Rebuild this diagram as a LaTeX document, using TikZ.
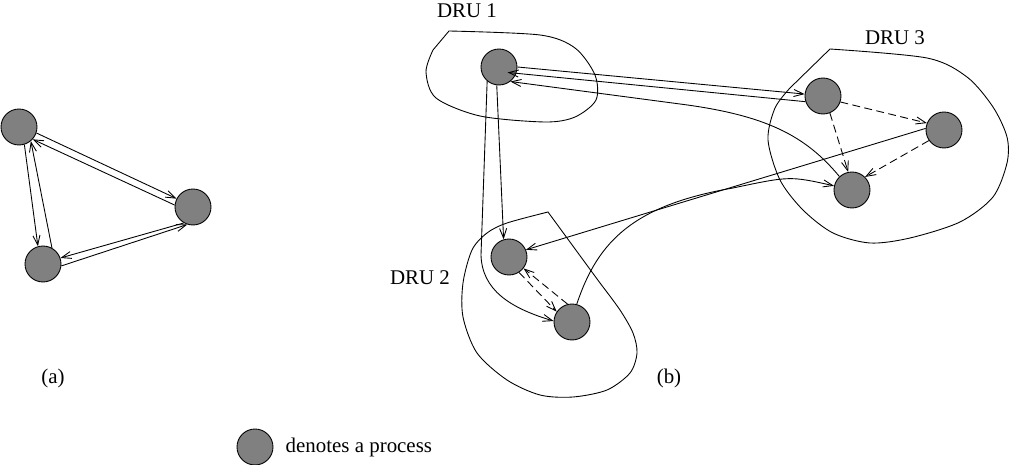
\documentclass[tikz,border=0pt]{standalone}
\usepackage{fontspec}
\setmainfont{Liberation Serif}
\usetikzlibrary{arrows.meta,positioning}
\definecolor{procgray}{RGB}{128,128,128}

\begin{document}
\begin{tikzpicture}[x=0.02cm, y=-0.02cm, line width=0.5pt,
    >={Straight Barb[length=5.5pt,width=4pt]},
    proc/.style={circle, draw, fill=procgray, minimum size=0.72cm, inner sep=0pt},
    lbl/.style={font=\fontsize{11.9}{14}\selectfont},
    local/.style={->, dash pattern=on 4.5pt off 2.5pt}]
    \useasboundingbox (0,0) rectangle (1009,465);

    % DRU outlines
    \draw plot[smooth] coordinates {(449,31) (540,35) (575,48) (595,75) (596,100) (575,117) (545,122) (480,116) (436,98) (426,72) (433,50)} -- cycle;
    \draw plot[smooth] coordinates {(830,49) (927,58) (967,77) (993,107) (1007,137) (1007,163) (993,197) (960,222) (910,238) (870,243) (833,233) (803,210) (780,180) (768,140) (775,108) (790,88)} -- cycle;
    \draw plot[smooth] coordinates {(548,212) (507,223) (487,233) (472,250) (463,283) (463,317) (477,353) (507,380) (540,395) (573,397) (607,390) (630,373) (637,353) (633,333) (620,310) (600,283)} -- cycle;

    % (a) processes
    \node[proc] (a1) at (19,127) {};
    \node[proc] (a2) at (193,207) {};
    \node[proc] (a3) at (43,264) {};

    \foreach \s/\t in {a1.-19/a2.153, a2.174/a1.-42, a1.-73/a3.106, a3.61/a1.-50, a3.-6/a2.-108, a2.-120/a3.19}
        \draw[->] (\s) -- (\t);

    % (b) processes
    \node[proc] (b1) at (499,67) {};
    \node[proc] (b2) at (823,96) {};
    \node[proc] (b3) at (944,130) {};
    \node[proc] (b4) at (852,190) {};
    \node[proc] (b5) at (509,257) {};
    \node[proc] (b6) at (572,322) {};

    % messages between DRUs
    \draw[->] (b1.0) -- (b2.174);
    \draw[->, shorten >=-5pt] (b2.198) -- (b1.-20);
    \draw[->] (b4.133) .. controls (805,135) and (765,115) .. (680,104) -- (b1.-52);
    \draw[->] (b1.-97) -- (b5.107);
    \draw[->] (b1.-130) -- (481,255) .. controls (482,290) and (510,308) .. (b6.177);
    \draw[->] (b3.175) -- (b5.23);
    \draw[->] (b6.75) .. controls (598,240) and (635,205) .. (733,188) .. controls (790,176) .. (b4.167);

    % messages inside a DRU
    \draw[local] (b2.-19) -- (b3.158);
    \draw[local] (b2.-68) -- (b4.102);
    \draw[local] (b3.-145) -- (b4.45);
    \draw[local] (b5.-57) -- (b6.146);
    \draw[local] (b6.104) -- (b5.-38);

    % labels
    \node[lbl] (l1) at (467,11) {DRU 1};
    \node[lbl] (l2) at (420,278) {DRU 2};
    \node[lbl] (l3) at (895,38) {DRU 3};
    \node[lbl] (la) at (53,378) {(a)};
    \node[lbl] (lb) at (669,378) {(b)};

    % legend
    \node[proc] (key) at (255,447) {};
    \node[lbl, right=0.12cm of key] (keytext) {denotes a process};
\end{tikzpicture}
\end{document}
